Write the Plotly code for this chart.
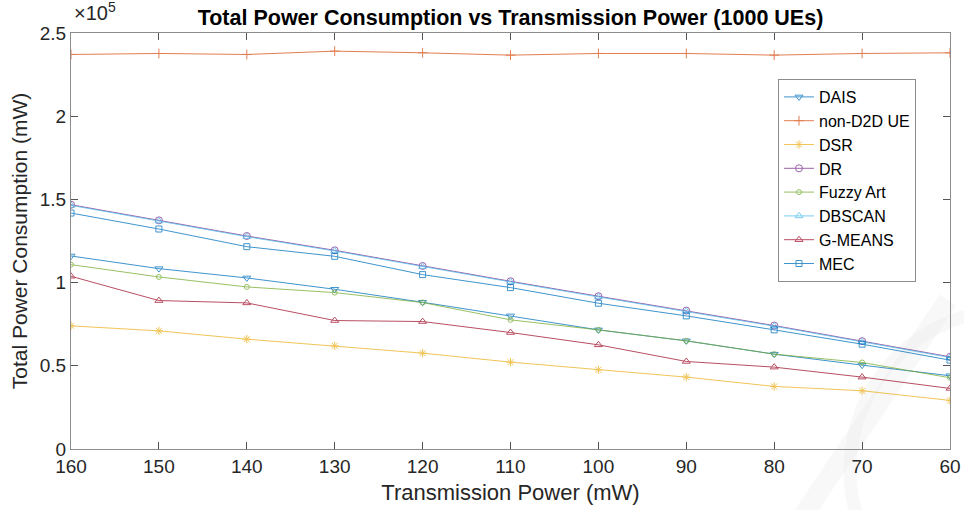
import plotly.graph_objects as go

# Transmission power settings (mW)
tx_power = [160, 150, 140, 130, 120, 110, 100, 90, 80, 70, 60]

# Total power consumption (mW) for each scheme
dais = [116000, 108400, 102800, 96000, 88200, 80000, 71600, 65000, 57000, 50400, 44000]
non_d2d = [237100, 237700, 237100, 239100, 238100, 236700, 237700, 237700, 236700, 237700, 238100]
dsr = [74000, 71000, 66000, 62000, 57600, 52200, 47600, 43200, 37600, 35000, 29200]
dr = [146800, 137400, 128000, 119400, 110000, 100800, 91800, 83200, 74200, 64800, 55400]
fuzzy = [110800, 103400, 97400, 94000, 88000, 77600, 71600, 65000, 57000, 52000, 42800]
dbscan = [146400, 137000, 127600, 119000, 109600, 100400, 91400, 82800, 73800, 64400, 55000]
gmeans = [103800, 89200, 87800, 77200, 76600, 70000, 62600, 52600, 49200, 43200, 36400]
mec = [141800, 132200, 121600, 115800, 104800, 97000, 87600, 80000, 71600, 63000, 53400]

y_ticks = [0, 50000, 100000, 150000, 200000, 250000]
y_tick_text = ["0", "0.5", "1", "1.5", "2", "2.5"]

series = [
    ("DAIS", dais, "#0072BD", "triangle-down-open", 7),
    ("non-D2D UE", non_d2d, "#D95319", "cross-thin-open", 7),
    ("DSR", dsr, "#EDB120", "asterisk-open", 7),
    ("DR", dr, "#7E2F8E", "circle-open", 7),
    ("Fuzzy Art", fuzzy, "#77AC30", "circle-open", 5),
    ("DBSCAN", dbscan, "#4DBEEE", "triangle-up-open", 7),
    ("G-MEANS", gmeans, "#A2142F", "triangle-up-open", 7),
    ("MEC", mec, "#0072BD", "square-open", 6),
]

fig = go.Figure()
for name, vals, color, symbol, size in series:
    fig.add_trace(go.Scatter(
        x=tx_power, y=vals, name=name, mode="lines+markers",
        line=dict(color=color, width=1),
        marker=dict(symbol=symbol, size=size, color=color,
                    line=dict(color=color, width=1)),
        opacity=0.75,
    ))

# plot-area geometry in pixels (for converting decoration positions)
L, R, T, B = 71, 950, 33, 449
W, H = R - L, B - T

def px(x):
    return (x - L) / W

def py(y):
    return (B - y) / H

wm = "rgba(236,236,236,0.35)"
shapes = [
    dict(type="line", xref="paper", yref="paper",
         x0=px(800), y0=py(520), x1=px(948), y1=py(300),
         line=dict(color=wm, width=20), layer="below"),
    dict(type="circle", xref="paper", yref="paper",
         x0=px(1010 - 160), x1=px(1010 + 160), y0=py(470 + 160), y1=py(470 - 160),
         line=dict(color=wm, width=13), layer="below"),
]

axis_common = dict(
    showline=True, linecolor="#8c8c8c", linewidth=1, mirror="ticks",
    ticks="inside", ticklen=7, tickcolor="#555555", tickwidth=1,
    showgrid=False, zeroline=False, automargin=False,
)

narrow = "Liberation Sans Narrow, Arial Narrow, Liberation Sans, sans-serif"

fig.update_layout(
    width=964, height=510,
    margin=dict(l=L, r=964 - R, t=T, b=510 - B, autoexpand=False),
    paper_bgcolor="white", plot_bgcolor="white",
    font=dict(family="Liberation Sans, Arial, sans-serif", color="#262626", size=18),
    title=dict(text="<b>Total Power Consumption vs Transmission Power (1000 UEs)</b>",
               x=(L + W / 2) / 964, xanchor="center", y=1 - 17 / 510, yanchor="middle",
               font=dict(size=21.5, color="#000000")),
    xaxis=dict(
        range=[160, 60], tickvals=tx_power, ticktext=[str(v) for v in tx_power],
        tickfont=dict(family=narrow, size=19),
        title=dict(text="Transmission Power (mW)", standoff=8,
                   font=dict(family=narrow, size=22)),
        **axis_common,
    ),
    yaxis=dict(
        range=[0, 250000], tickvals=y_ticks, ticktext=y_tick_text,
        tickfont=dict(size=19),
        title=dict(text="Total Power Consumption (mW)", standoff=6, font=dict(size=21)),
        **axis_common,
    ),
    legend=dict(
        x=px(778), y=py(79), xanchor="left", yanchor="top",
        bgcolor="white", bordercolor="#8c8c8c", borderwidth=1,
        font=dict(size=16, color="#000000"), tracegroupgap=0,
        itemwidth=30,
    ),
    shapes=shapes,
    annotations=[
        dict(text="×10<sup>5</sup>", xref="paper", yref="paper",
             x=px(72), y=py(26), xanchor="left", yanchor="bottom",
             showarrow=False, font=dict(size=20, color="#262626")),
    ],
)

fig.write_html("out.html")
